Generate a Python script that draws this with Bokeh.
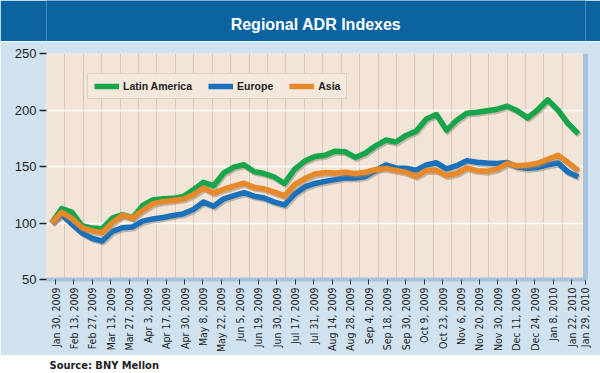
import numpy as np
from bokeh.plotting import figure
from bokeh.models import FixedTicker, Legend, LegendItem, LinearAxis, Range1d, Label
from bokeh.layouts import column
from bokeh.embed import file_html
from bokeh.resources import INLINE

title_text = "Regional ADR Indexes"
source_text = "Source: BNY Mellon"
series_names = ["Latin America", "Europe", "Asia"]
series_colors = ["#17a54b", "#1a70b9", "#e5892a"]

tick_labels = ["Jan 30, 2009", "Feb 13, 2009", "Feb 27, 2009", "Mar 13, 2009", "Mar 27, 2009",
               "Apr 3, 2009", "Apr 17, 2009", "Apr 30, 2009", "May 8, 2009", "May 22, 2009",
               "Jun 5, 2009", "Jun 19, 2009", "Jun 30, 2009", "Jul 17, 2009", "Jul 31, 2009",
               "Aug 14, 2009", "Aug 28, 2009", "Sep 4, 2009", "Sep 18, 2009", "Sep 30, 2009",
               "Oct 9, 2009", "Oct 23, 2009", "Nov 6, 2009", "Nov 20, 2009", "Nov 30, 2009",
               "Dec 11, 2009", "Dec 24, 2009", "Jan 8, 2010", "Jan 22, 2010", "Jan 29, 2010"]

latin_america = [100, 112.7, 109.6, 97.7, 95.5, 95, 104.3, 107.4, 104.7, 115.5,
                 120.4, 121.4, 121.8, 123.4, 129.5, 136, 133, 144.3, 149.5, 151.5,
                 145.5, 143.8, 140.7, 135, 147.7, 154.8, 158.8, 159.9, 163.6, 163,
                 158, 162, 168.3, 173.4, 171.7, 177.5, 181.3, 192, 196, 182,
                 191, 197.2, 198, 199.4, 200.7, 203.4, 199.4, 193, 200.2, 209,
                 200, 188, 179]
europe = [100, 107.6, 99.2, 91.3, 86.5, 84, 92.6, 95.8, 96.5, 101.7,
          103.6, 104.9, 106.7, 108.1, 112, 118.5, 114.8, 121.4, 124.2, 126.8,
          123.7, 122.1, 118.5, 116, 125.7, 131.9, 135, 136.8, 138.4, 140.1,
          139.8, 141.2, 146.5, 151.4, 148.7, 148.5, 146.8, 151.3, 153.3, 148,
          150.7, 155.2, 153.7, 153, 152.6, 153.5, 149.5, 148.4, 149.2, 151.5,
          153.2, 145, 141]
asia = [100, 109.4, 104, 96, 93, 91.5, 100.2, 106.9, 104.5, 111.1,
        117.1, 118.9, 120, 121.1, 125, 131, 126.4, 129.9, 132.6, 135.2,
        131.5, 130.2, 127.3, 124, 133.9, 139.3, 143.3, 144.6, 144.2, 145,
        143.8, 144.9, 147.4, 148.3, 146.5, 144.8, 141.3, 146.5, 146.5, 142,
        143.7, 148.7, 146.3, 145.8, 147.7, 152.8, 150.7, 151.4, 152.9, 156.4,
        160, 153.5, 146.5]

y_ticks = [50, 100, 150, 200, 250]

series = [latin_america, europe, asia]
weeks = np.arange(len(latin_america))

W = 600
FONT = "Liberation Sans"
NARROW = "DejaVu Sans Condensed, Roboto, Liberation Sans"

# ---- title band ----
pt = figure(width=W, height=41, x_range=(0, 1), y_range=(0, 1), toolbar_location=None,
            output_backend="svg", min_border=0, x_axis_location=None, y_axis_location=None)
pt.background_fill_color = "#0b63a0"
pt.border_fill_color = "#0b63a0"
pt.outline_line_color = None
pt.grid.visible = False
pt.add_layout(Label(x=0.5, y=0.42, text=title_text, text_align="center", text_baseline="middle",
                    text_color="white", text_font_size="16px", text_font_style="bold", text_font=FONT))

# ---- main chart ----
p = figure(width=W, height=314, x_range=Range1d(-0.5, 52.72), y_range=Range1d(50, 250),
           toolbar_location=None, output_backend="svg",
           min_border_left=46, min_border_right=15, min_border_top=12, min_border_bottom=63)
p.background_fill_color = "#f2e4d7"
p.border_fill_color = "#d0e2ef"
p.outline_line_color = None

first, step = 0.39, 1.82
label_pos = [round(first + step * k, 3) for k in range(len(tick_labels) - 1)] + [52.68]
grid_pos = [round(first + step * (k + 0.5), 3) for k in range(len(tick_labels) - 2)]

p.xaxis.ticker = FixedTicker(ticks=label_pos)
p.xaxis.major_label_overrides = {pos: lab for pos, lab in zip(label_pos, tick_labels)}
p.xaxis.major_label_orientation = np.pi / 2
p.xaxis.major_label_text_font = NARROW
p.xaxis.major_label_text_font_size = "10.5px"
p.xaxis.major_label_text_color = "#1e1e1e"
p.xaxis.major_label_standoff = 3
p.xaxis.axis_line_color = "#a6c2dc"
p.xaxis.axis_line_width = 4
p.xaxis.major_tick_line_color = "#333333"
p.xaxis.major_tick_out = 5
p.xaxis.major_tick_in = 0
p.xaxis.minor_tick_line_color = None

p.yaxis.ticker = FixedTicker(ticks=y_ticks)
p.yaxis.axis_line_color = None
p.yaxis.major_tick_line_color = "#222222"
p.yaxis.major_tick_line_width = 1.5
p.yaxis.major_tick_out = 7
p.yaxis.major_tick_in = 0
p.yaxis.minor_tick_line_color = None
p.yaxis.major_label_text_font = FONT
p.yaxis.major_label_text_font_size = "13px"
p.yaxis.major_label_text_color = "#1e1e1e"
p.yaxis.major_label_standoff = 3

p.xgrid.ticker = FixedTicker(ticks=grid_pos)
p.xgrid.grid_line_color = "#d8c7b8"
p.xgrid.grid_line_width = 1
p.ygrid.ticker = FixedTicker(ticks=y_ticks)
p.ygrid.grid_line_color = "white"
p.ygrid.grid_line_width = 1.5

ra = LinearAxis(ticker=FixedTicker(ticks=[]), axis_line_color="#a6c2dc", axis_line_width=5,
                major_tick_line_color=None, minor_tick_line_color=None,
                major_label_text_font_size="0px")
p.add_layout(ra, "right")

items = []
for name, vals, col in zip(series_names, series, series_colors):
    vals = np.array(vals, dtype=float)
    p.line(weeks + 0.12, vals - 1.5, line_color="#8f8276", line_alpha=0.5, line_width=5.5,
           line_join="round")
    r = p.line(weeks, vals, line_color=col, line_width=5.5, line_join="round")
    items.append(LegendItem(label=name, renderers=[r]))

legend = Legend(items=items, location=(41, 180), orientation="horizontal",
                glyph_width=25, glyph_height=10, label_height=10, label_standoff=4,
                spacing=16, padding=6, margin=0,
                label_text_font=FONT, label_text_font_size="10.5px", label_text_font_style="bold",
                label_text_color="#1e1e1e",
                background_fill_color="#f4e8dd", background_fill_alpha=1,
                border_line_color="#c4b9ae", border_line_width=1.5)
p.add_layout(legend)

# ---- source line ----
ps = figure(width=W, height=18, x_range=(0, 1), y_range=(0, 1), toolbar_location=None,
            output_backend="svg", min_border=0, x_axis_location=None, y_axis_location=None)
ps.background_fill_color = "white"
ps.border_fill_color = "white"
ps.outline_line_color = None
ps.grid.visible = False
ps.add_layout(Label(x=3, y=0.45, x_units="screen", text=source_text, text_align="left",
                    text_baseline="middle", text_color="#1e1e1e", text_font_size="11px",
                    text_font_style="bold", text_font=NARROW))

layout = column(pt, p, ps, spacing=0)
open("out.html", "w").write(file_html(layout, INLINE))
